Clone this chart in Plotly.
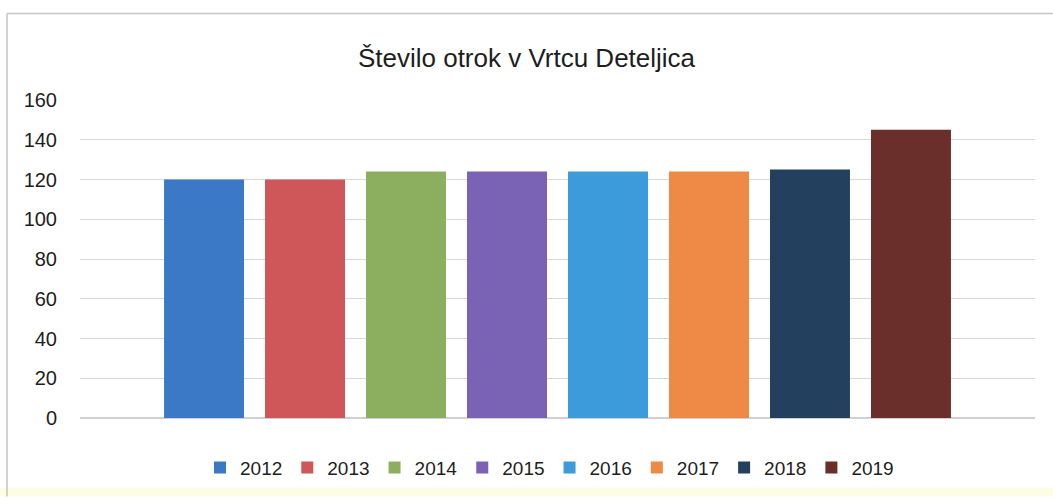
import plotly.graph_objects as go

years = ["2012", "2013", "2014", "2015", "2016", "2017", "2018", "2019"]
values = [120, 120, 124, 124, 124, 124, 125, 145]
colors = ["#3B78C6", "#CF575A", "#8CAF5F", "#7A62B4", "#3C9BDA", "#EE8A46", "#24405F", "#6A2F2B"]
y_ticks = [0, 20, 40, 60, 80, 100, 120, 140, 160]

FONT = "Liberation Sans, Arial, sans-serif"
W, H = 1053, 499
L, R, T, B = 80, 18, 100, 79
PW, PH = W - L - R, H - T - B


def px_x(p):
    return (p - L) / PW


def px_y(p):
    return (H - B - p) / PH


fig = go.Figure()
for yr, v, c in zip(years, values, colors):
    fig.add_trace(go.Bar(x=[""], y=[v], name=yr, marker=dict(color=c, line=dict(width=0))))

fig.update_layout(
    width=W, height=H,
    margin=dict(l=L, r=R, t=T, b=B),
    paper_bgcolor="white", plot_bgcolor="white",
    barmode="group", bargap=0.154, bargroupgap=0.208,
    title=dict(text="Število otrok v Vrtcu Deteljica", x=0.5, xanchor="center",
               y=1 - 58 / H, yanchor="middle",
               font=dict(family=FONT, size=26, color="#1e1e1e")),
    font=dict(family=FONT, size=19, color="#1e1e1e"),
    showlegend=True,
    legend=dict(orientation="h", x=px_x(200), xanchor="left", y=px_y(470), yanchor="middle",
                font=dict(family=FONT, size=19, color="#1e1e1e"),
                itemwidth=30, traceorder="normal", tracegroupgap=0),
    xaxis=dict(showticklabels=False, showgrid=False, zeroline=False, showline=False),
    yaxis=dict(range=[0, 160], tickvals=y_ticks, showgrid=True, gridcolor="#d9d9d9",
               gridwidth=1, zeroline=True, zerolinecolor="#d0d0d0", showline=False,
               ticklabelstandoff=22, tickfont=dict(family=FONT, size=20, color="#1e1e1e")),
)

# faint yellowish strip at the bottom of the scan
fig.add_shape(type="rect", xref="paper", yref="paper",
              x0=px_x(0), x1=px_x(W), y0=px_y(H), y1=px_y(490),
              line=dict(width=0), fillcolor="#fdfde6", layer="below")
# chart frame (top and left edges visible)
fig.add_shape(type="line", xref="paper", yref="paper",
              x0=px_x(7), x1=px_x(W), y0=px_y(13), y1=px_y(13),
              line=dict(color="#c4c4c4", width=1.5), layer="below")
fig.add_shape(type="line", xref="paper", yref="paper",
              x0=px_x(7), x1=px_x(7), y0=px_y(13), y1=px_y(H),
              line=dict(color="#c4c4c4", width=1.5), layer="below")

fig.write_html("out.html", config={"displayModeBar": False},
               post_script="document.body.style.margin='0';")
